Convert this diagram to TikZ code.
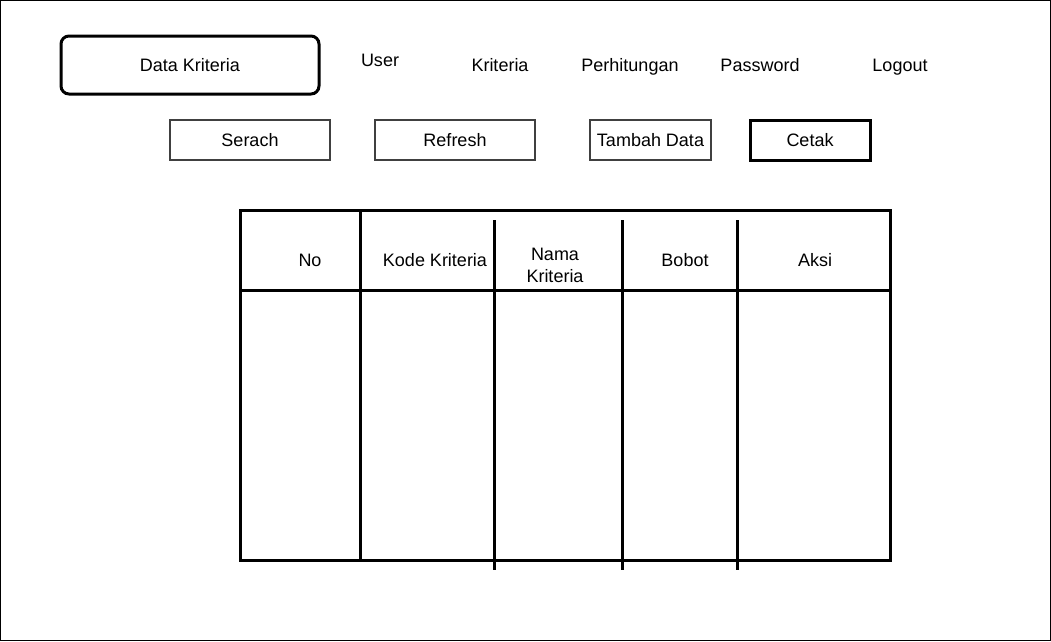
\documentclass[tikz,border=0pt]{standalone}
\usepackage{fontspec}
\setmainfont{Liberation Sans}
\usetikzlibrary{positioning}

\begin{document}
\begin{tikzpicture}[
  x=1pt, y=-1pt,
  node distance=120pt,
  font=\fontsize{18}{22.5}\selectfont,
  tabbox/.style = {
    draw,
    shape=rectangle,
    rounded corners=8pt,
    line width=3pt,
    minimum width=258pt,
    minimum height=58pt
  },
  menu/.style = {
    inner sep=0pt,
    text height=12.5pt,
    text depth=0pt
  },
  button/.style = {
    draw=black!75,
    shape=rectangle,
    line width=1.8pt,
    minimum width=160pt,
    minimum height=40pt,
    inner sep=2pt
  },
  heavy/.style = {
    line width=3pt
  },
]
  % frame
  \draw[line width=1pt] (0.5,0.5) rectangle (1050.5,640.5);

  % menu row
  \node (datakriteria)[tabbox] at (190,65) {Data Kriteria};
  \node (user)[
    right of=datakriteria,
    menu,
    xshift=70pt,
    yshift=5pt
  ] {User};
  \node (kriteria)[
    right of=user,
    menu,
    yshift=-5pt
  ] {Kriteria};
  \node (perhitungan)[
    right of=kriteria,
    menu,
    xshift=10pt
  ] {Perhitungan};
  \node (password)[
    right of=perhitungan,
    menu,
    xshift=10pt
  ] {Password};
  \node (logout)[
    right of=password,
    menu,
    xshift=20pt
  ] {Logout};

  % buttons
  \node (serach)[button] at (250,140) {Serach};
  \node (refresh)[
    right of=serach,
    button,
    xshift=85pt
  ] {Refresh};
  \node (tambah)[
    right of=refresh,
    button,
    minimum width=121pt,
    xshift=75.5pt
  ] {Tambah Data};
  \node (cetak)[
    right of=tambah,
    button,
    draw=black,
    line width=3pt,
    minimum width=120pt,
    xshift=39.5pt
  ] {Cetak};

  % table
  \draw[heavy] (240,210) rectangle (890,560);
  \draw[heavy] (240,290) -- (890,290);
  \draw[heavy] (360,210) -- (360,560);
  \foreach \x in {494,622,737}
    \draw[heavy] (\x,220) -- (\x,570);

  \node (no)[menu] at (310,260) {No};
  \node (kode)[menu] at (435,260) {Kode Kriteria};
  \node (nama)[align=center] at (555,265.5) {Nama\\Kriteria};
  \node (bobot)[menu] at (685,260) {Bobot};
  \node (aksi)[menu] at (815,260) {Aksi};
\end{tikzpicture}
\end{document}
